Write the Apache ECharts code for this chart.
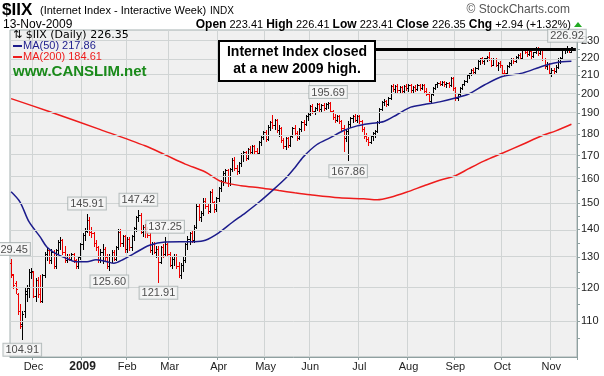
<!DOCTYPE html>
<html>
<head>
<meta charset="utf-8">
<script src="https://cdn.jsdelivr.net/npm/echarts@6/dist/echarts.min.js"></script>
<style>
  html, body { margin: 0; padding: 0; background: #fff; }
  #chart { width: 604px; height: 376px; }
</style>
</head>
<body>
<div id="chart"></div>
<script>
// daily bars, [open, high, low, close], one array per month
const nov08 = [
  [128.0,129.45,123.5,124.5],[124.0,124.5,120.0,121.0],[121.5,122.0,118.5,119.5],[118.0,118.5,112.0,113.0],
  [113.0,115.0,108.0,108.5],[109.0,113.0,104.91,112.0],[113.0,120.0,111.0,119.0],[118.0,121.0,116.0,120.0],
  [120.0,126.0,117.0,125.0],[125.0,126.5,123.0,125.5]
];
const dec08 = [
  [125.0,125.5,117.0,117.5],[117.5,123.0,116.0,122.5],[122.5,123.5,117.0,118.0],[118.0,124.0,115.5,116.0],
  [116.0,124.5,115.5,124.0],[124.0,132.0,123.5,131.0],[131.0,133.5,129.0,132.5],[132.5,133.0,128.0,129.0],
  [129.0,133.0,128.0,132.0],[132.0,132.5,126.5,127.0],[127.0,133.0,126.5,132.5],[132.5,136.0,131.0,135.5],
  [135.5,137.0,133.0,136.0],[136.0,136.5,131.0,132.0],[132.0,134.0,128.5,129.0],[129.0,131.0,128.5,130.5],
  [130.5,131.0,129.0,129.5],[129.5,131.5,129.0,131.0],[131.0,131.5,128.5,129.0],[129.0,129.5,126.5,127.0],
  [127.0,130.5,126.5,130.0],[130.0,135.0,129.5,134.5]
];
const jan09 = [
  [134.5,138.5,133.0,138.0],[138.0,140.5,136.0,139.5],[139.5,145.91,139.0,143.5],[143.5,144.5,138.0,139.0],
  [139.0,141.0,137.0,138.5],[138.5,139.0,134.0,135.0],[135.0,136.0,132.5,133.5],[133.5,134.0,128.5,129.0],
  [129.0,133.0,128.5,132.0],[132.0,134.5,128.0,133.0],[133.0,133.5,129.0,130.0],[130.0,131.0,126.5,127.0],
  [127.0,131.0,125.60,130.5],[130.5,132.5,128.5,132.0],[132.0,132.5,129.0,129.5],[129.5,134.0,129.0,133.5],
  [133.5,140.0,133.0,139.0],[139.0,140.0,134.0,135.0],[135.0,138.0,134.0,137.5],[137.5,138.0,132.0,133.0]
];
const feb09 = [
  [133.0,137.0,132.0,136.5],[136.5,137.0,132.5,133.5],[133.5,138.0,132.5,137.5],[137.5,141.0,136.0,140.5],
  [140.5,145.0,139.5,144.5],[144.5,147.42,143.0,145.5],[145.5,146.0,138.5,139.0],[139.0,141.5,137.5,141.0],
  [141.0,142.0,137.0,140.0],[140.0,141.0,137.0,138.0],[138.0,138.5,132.0,132.5],[132.5,135.5,131.0,134.5],
  [134.5,135.5,131.5,132.0],[132.0,134.0,130.0,133.0],[133.0,134.0,121.91,128.5],[128.5,134.0,128.0,133.5],
  [133.5,134.5,130.0,131.0],[131.0,137.25,130.5,134.5],[134.5,135.0,130.5,131.0]
];
const mar09 = [
  [131.0,132.0,127.0,127.5],[127.5,130.5,126.5,129.5],[129.5,131.0,127.5,130.5],[130.5,131.0,126.5,127.0],
  [127.0,128.5,123.5,124.0],[124.0,128.0,123.0,127.5],[127.5,130.0,125.5,129.0],[129.0,135.0,128.5,134.5],
  [134.5,137.5,133.0,136.5],[136.5,139.0,134.5,138.5],[138.5,139.5,135.5,136.0],[136.0,141.5,135.5,141.0],
  [141.0,150.0,140.5,149.0],[149.0,149.5,143.5,144.5],[144.5,147.0,143.0,146.0],[146.0,152.0,145.5,151.0],
  [151.0,152.0,148.0,149.0],[149.0,150.0,146.0,147.0],[147.0,155.0,146.5,154.5],[154.5,155.5,150.0,150.5],
  [150.5,151.0,146.5,147.5],[147.5,152.5,147.0,152.0]
];
const apr09 = [
  [152.0,156.5,151.0,156.0],[156.0,159.5,155.0,159.0],[159.0,163.0,157.5,162.5],[162.5,164.0,159.0,163.5],
  [163.5,164.0,157.0,158.0],[158.0,164.5,157.5,164.0],[164.0,169.0,163.0,168.0],[168.0,169.5,163.5,164.5],
  [164.5,166.0,162.0,163.0],[163.0,167.0,162.5,166.5],[166.5,171.0,165.5,170.5],[170.5,172.0,167.5,171.5],
  [171.5,172.0,168.0,169.0],[169.0,173.5,168.5,173.0],[173.0,174.5,170.5,171.5],[171.5,175.0,170.5,174.5],
  [174.5,175.0,171.0,172.0],[172.0,173.5,170.5,171.0],[171.0,176.5,170.5,176.0],[176.0,179.0,175.0,178.5],
  [178.5,181.5,177.5,181.0]
];
const may09 = [
  [181.0,182.0,176.5,177.5],[177.5,184.0,177.0,183.5],[183.5,186.0,182.0,185.5],[185.5,189.0,183.0,184.0],
  [184.0,187.0,182.5,186.5],[186.5,187.0,181.0,182.0],[182.0,184.0,179.0,183.0],[183.0,183.5,176.0,177.0],
  [177.0,178.0,173.5,174.5],[174.5,178.5,173.0,178.0],[178.0,178.5,174.0,175.0],[175.0,179.5,174.5,179.0],
  [179.0,183.5,178.5,183.0],[183.0,184.0,179.5,180.5],[180.5,181.5,177.0,178.0],[178.0,183.0,177.5,182.5],
  [182.5,186.0,181.5,185.5],[185.5,186.5,182.0,184.5],[184.5,189.0,184.0,188.5],[188.5,190.0,186.5,189.5]
];
const jun09 = [
  [189.5,194.0,189.0,193.5],[193.5,194.5,190.0,191.0],[191.0,193.0,189.5,192.5],[192.5,195.0,191.5,194.5],
  [194.5,195.0,191.0,192.0],[192.0,194.5,191.0,194.0],[194.0,195.0,191.5,192.5],[192.5,195.0,192.0,194.5],
  [194.5,195.69,192.5,195.0],[195.0,195.5,190.5,191.0],[191.0,191.5,187.0,188.0],[188.0,189.5,185.5,186.5],
  [186.5,189.0,186.0,188.5],[188.5,189.0,185.0,186.0],[186.0,186.5,182.0,183.0],[183.0,184.0,172.0,178.0],
  [178.0,182.0,176.5,181.5],[181.5,186.0,167.86,184.5],[184.5,188.0,183.5,187.5],[187.5,189.0,185.5,188.5],
  [188.5,189.5,186.0,186.5],[186.5,189.0,185.5,188.5]
];
const jul09 = [
  [188.5,189.0,185.0,186.0],[186.0,186.5,181.5,182.5],[182.5,183.5,178.0,179.0],[179.0,180.5,176.5,177.5],
  [177.5,178.5,175.0,176.0],[176.0,179.5,175.5,179.0],[179.0,181.0,177.0,180.5],[180.5,182.0,178.5,181.5],
  [181.5,186.0,181.0,185.5],[185.5,192.5,185.0,192.0],[192.0,196.0,191.5,195.5],[195.5,197.5,194.0,196.5],
  [196.5,197.0,193.5,194.5],[194.5,198.5,194.0,198.0],[198.0,204.5,197.5,204.0],[204.0,205.5,201.5,202.5],
  [202.5,204.5,201.0,204.0],[204.0,205.0,201.0,202.0],[202.0,204.0,200.5,203.5],[203.5,204.0,200.5,201.5],
  [201.5,204.5,201.0,204.0],[204.0,205.5,202.0,203.0]
];
const aug09 = [
  [203.0,205.0,201.5,204.5],[204.5,205.5,201.0,202.0],[202.0,204.0,200.5,203.5],[203.5,204.5,201.5,202.5],
  [202.5,205.0,202.0,204.5],[204.5,205.5,202.0,203.0],[203.0,205.0,202.5,204.5],[204.5,205.5,201.0,201.5],
  [201.5,203.0,199.5,200.0],[200.0,201.0,196.0,196.5],[196.5,200.5,195.5,200.0],[200.0,203.5,199.5,203.0],
  [203.0,205.5,202.5,205.0],[205.0,206.5,203.5,206.0],[206.0,207.0,204.5,205.0],[205.0,207.0,204.5,206.5],
  [206.5,207.0,204.0,205.0],[205.0,206.5,203.5,206.0],[206.0,206.5,203.5,204.5],[204.5,209.0,204.0,208.5],
  [208.5,209.0,202.0,203.0]
];
const sep09 = [
  [203.0,203.5,197.0,198.0],[198.0,200.5,197.0,200.0],[200.0,203.5,199.5,203.0],[203.0,205.5,202.5,205.0],
  [205.0,207.5,204.5,207.0],[207.0,210.5,206.5,210.0],[210.0,211.5,208.5,211.0],[211.0,213.5,210.0,213.0],
  [213.0,214.0,211.0,212.0],[212.0,214.5,211.5,214.0],[214.0,218.5,213.5,218.0],[218.0,220.0,216.5,219.5],
  [219.5,220.5,217.0,218.0],[218.0,220.0,216.5,219.5],[219.5,221.0,218.0,220.5],[220.5,223.5,218.5,219.0],
  [219.0,219.5,215.0,216.0],[216.0,219.5,215.5,219.0],[219.0,219.5,215.0,215.5],[215.5,217.5,213.0,217.0],
  [217.0,218.0,214.5,215.5]
];
const oct09 = [
  [215.5,216.0,211.0,211.5],[211.5,213.0,210.0,211.0],[211.0,215.5,210.5,215.0],[215.0,217.5,214.5,217.0],
  [217.0,219.5,216.0,219.0],[219.0,219.5,217.0,218.0],[218.0,221.0,217.5,220.5],[220.5,222.0,219.5,221.5],
  [221.5,222.5,219.5,220.0],[220.0,225.0,219.5,224.5],[224.5,225.5,222.5,223.5],[223.5,224.0,221.0,222.0],
  [222.0,224.5,221.5,224.0],[224.0,224.5,220.0,221.0],[221.0,223.5,220.5,223.0],[223.0,226.0,222.5,225.5],
  [225.5,226.0,221.5,222.5],[222.5,225.5,222.0,225.0],[225.0,225.5,218.5,219.0],[219.0,219.5,214.0,215.0],
  [215.0,217.5,213.5,216.5],[216.5,217.0,210.5,211.5]
];
const nov09 = [
  [211.5,214.0,209.5,213.0],[213.0,214.0,211.0,212.5],[212.5,215.5,212.0,214.5],[214.5,219.5,214.0,219.0],
  [219.0,220.5,217.0,220.0],[220.0,225.0,219.5,224.5],[224.5,225.5,222.5,224.8],[224.8,226.92,223.5,225.0],
  [225.0,225.5,223.0,223.41],[223.41,226.41,223.41,226.35]
];

// moving averages, [bar index, value]
const ma50 = [
  [0,154.5],[4,150.4],[8,142.8],[13,137.2],[16,133.6],[20,131.3],[25,129.6],[29,128.5],[34,128.5],[38,129.2],
  [43,128.5],[46,128.0],[50,129.2],[55,131.3],[62,134.2],[69,135.4],[82,135.5],[87,136.0],[93,138.7],[99,142.5],
  [105,146.2],[111,150.3],[117,155.0],[123,160.1],[127,164.5],[131,169.5],[137,175.0],[143,178.2],[149,181.6],
  [155,183.8],[161,185.0],[167,185.9],[173,189.4],[179,193.1],[185,194.4],[192,195.8],[199,197.8],[205,199.9],
  [212,204.7],[220,209.3],[229,211.2],[238,215.1],[244,217.1],[251,217.86]
];
const ma200 = [
  [0,197.5],[17,190.9],[40,182.0],[60,174.4],[69,170.3],[78,166.2],[87,162.8],[94,158.8],[103,157.0],[112,156.1],
  [120,155.0],[127,154.1],[134,153.3],[147,152.1],[158,151.7],[164,151.3],[170,152.3],[177,154.3],[185,157.0],
  [192,159.3],[199,161.2],[205,164.2],[212,167.6],[220,171.0],[229,175.0],[238,179.2],[244,181.4],[251,184.61]
];

// labelled highs and lows, [bar index, value, side]
const pivots = [
  [0,129.45,'top'],[5,104.91,'bottom'],[34,145.91,'top'],[44,125.60,'bottom'],[57,147.42,'top'],
  [66,121.91,'bottom'],[69,137.25,'top'],[142,195.69,'top'],[151,167.86,'bottom'],[249,226.92,'top']
];

const monthStarts = [10, 32, 52, 71, 93, 114, 134, 156, 178, 199, 220, 242];
const monthLabels = ['Dec', '2009', 'Feb', 'Mar', 'Apr', 'May', 'Jun', 'Jul', 'Aug', 'Sep', 'Oct', 'Nov'];
const priceTicks = [110, 120, 130, 140, 150, 160, 170, 180, 190, 200, 210, 220, 230];
const minorTicks = [105, 110, 115, 120, 125, 130, 135, 140, 145, 150, 155, 160, 165, 170, 175, 180, 185, 190, 195, 200, 205, 210, 215, 220, 225, 230, 235];
const highLine = 225;

const L = Math.log;
const bars = [].concat(nov08, dec08, jan09, feb09, mar09, apr09, may09, jun09, jul09, aug09, sep09, oct09, nov09);
const cats = [];
for (let i = 0; i < bars.length + 2; i++) cats.push(String(i));

const ohlc = bars.map((b, i) => {
  const prev = i > 0 ? bars[i - 1][3] : b[0];
  return [i, L(b[0]), L(b[1]), L(b[2]), L(b[3]), b[3] >= prev ? 1 : 0];
});

const font = '"Liberation Sans", Arial, sans-serif';
const chart = echarts.init(document.getElementById('chart'));

function txt(x, y, text, f, fill, extra) {
  return {
    type: 'text', z: 20,
    style: Object.assign({ x: x, y: y, text: text, font: f, fill: fill, textVerticalAlign: 'middle' }, extra || {})
  };
}

const option = {
  animation: false,
  backgroundColor: '#ffffff',
  grid: {
    left: 10, right: 27, top: 30, bottom: 19,
    show: true, backgroundColor: '#f0f0f0', borderColor: '#a4b0b0', borderWidth: 1
  },
  xAxis: {
    type: 'category',
    data: cats,
    boundaryGap: true,
    axisLine: { show: true, lineStyle: { color: '#8fa0a0' } },
    axisTick: { show: true, length: 3, interval: (idx) => monthStarts.includes(idx), lineStyle: { color: '#8fa0a0' } },
    axisLabel: {
      interval: (idx) => monthStarts.includes(idx),
      formatter: (v, idx) => {
        const k = monthStarts.indexOf(idx);
        if (k < 0) return '';
        return monthLabels[k] === '2009' ? '{b|2009}' : monthLabels[k];
      },
      margin: 4,
      color: '#222',
      fontFamily: font,
      fontSize: 11,
      rich: { b: { fontWeight: 'bold', fontSize: 12, fontFamily: font, color: '#222' } }
    },
    splitLine: { show: true, interval: (idx) => monthStarts.includes(idx), lineStyle: { color: '#d0d4d4', width: 1 } }
  },
  yAxis: {
    type: 'value',
    position: 'right',
    min: L(100),
    max: L(236.6),
    axisLine: { show: true, lineStyle: { color: '#8fa0a0' } },
    axisTick: { show: true, length: 3, customValues: minorTicks.map(L), lineStyle: { color: '#8fa0a0' } },
    axisLabel: {
      customValues: priceTicks.map(L),
      formatter: (v) => String(Math.round(Math.exp(v))),
      margin: 4,
      color: '#222',
      fontFamily: font,
      fontSize: 11
    },
    splitLine: { show: false }
  },
  series: [
    {
      // horizontal price grid
      type: 'line',
      z: 1,
      silent: true,
      data: [[0, L(100)]],
      showSymbol: false,
      lineStyle: { opacity: 0 },
      markLine: {
        silent: true,
        symbol: 'none',
        label: { show: false },
        lineStyle: { color: '#d0d4d4', width: 1, type: 'solid' },
        data: priceTicks.map(v => ({ yAxis: L(v) }))
      }
    },
    {
      type: 'custom',
      name: '$IIX',
      z: 3,
      data: ohlc,
      encode: { x: 0, y: [1, 2, 3, 4] },
      renderItem: function (params, api) {
        const i = api.value(0);
        const pO = api.coord([i, api.value(1)]);
        const pH = api.coord([i, api.value(2)]);
        const pL = api.coord([i, api.value(3)]);
        const pC = api.coord([i, api.value(4)]);
        const x = Math.round(pO[0]) + 0.5;
        const yo = Math.round(pO[1]) + 0.5;
        const yc = Math.round(pC[1]) + 0.5;
        const style = { stroke: api.value(5) ? '#000000' : '#ee0000', lineWidth: 1 };
        return {
          type: 'group',
          children: [
            { type: 'line', shape: { x1: x, y1: Math.round(pH[1]), x2: x, y2: Math.round(pL[1]) + 1 }, style: style },
            { type: 'line', shape: { x1: x - 1.5, y1: yo, x2: x, y2: yo }, style: style },
            { type: 'line', shape: { x1: x, y1: yc, x2: x + 1.5, y2: yc }, style: style }
          ]
        };
      }
    },
    {
      type: 'line',
      name: 'MA(200)',
      z: 4,
      smooth: 0.3,
      showSymbol: false,
      data: ma200.map(p => [p[0], L(p[1])]),
      lineStyle: { color: '#ee1c1c', width: 1.5 }
    },
    {
      type: 'line',
      name: 'MA(50)',
      z: 4,
      smooth: 0.3,
      showSymbol: false,
      data: ma50.map(p => [p[0], L(p[1])]),
      lineStyle: { color: '#1c1c8c', width: 1.5 },
      markLine: {
        silent: true,
        symbol: 'none',
        label: { show: false },
        lineStyle: { color: '#000', width: 3, type: 'solid' },
        data: [[{ coord: [163, L(highLine)] }, { coord: [253, L(highLine)] }]]
      }
    },
    {
      type: 'scatter',
      z: 6,
      symbolSize: 0,
      data: pivots.map(p => ({
        value: [p[0], L(p[1])],
        label: { position: p[2], distance: p[2] === 'top' ? 4 : 5 }
      })),
      label: {
        show: true,
        formatter: (d) => Math.exp(d.value[1]).toFixed(2),
        color: '#222',
        fontFamily: font,
        fontSize: 11,
        backgroundColor: '#f7f7f7',
        borderColor: '#a8b0b0',
        borderWidth: 1,
        padding: [1, 2, 0, 2]
      }
    }
  ],
  graphic: [
    txt(2, 10, '$IIX', 'bold 17px ' + font, '#000'),
    txt(40, 11, '(Internet Index - Interactive Week)', '11px ' + font, '#000'),
    txt(210, 11, 'INDX', '10px ' + font, '#000'),
    txt(570, 10, '\u00a9 StockCharts.com', '12px ' + font, '#555', { textAlign: 'right' }),
    txt(3, 25, '13-Nov-2009', '12px ' + font, '#000'),
    txt(571, 25, '{b|Open} 223.41 {b|High} 226.41 {b|Low} 223.41 {b|Close} 226.35 {b|Chg} +2.94 (+1.32%)',
      '11px ' + font, '#000', { textAlign: 'right', rich: { b: { font: 'bold 12px ' + font, fill: '#000' } } }),
    { type: 'polygon', z: 20, shape: { points: [[574, 27], [578, 22], [582, 27]] }, style: { fill: '#22aa22' } },
    txt(13, 35.5, '\u21c5 $IIX (Daily) 226.35', '11px "DejaVu Sans", sans-serif', '#000'),
    { type: 'rect', z: 20, shape: { x: 13, y: 45, width: 9, height: 2 }, style: { fill: '#1c1c8c' } },
    txt(23, 46, 'MA(50) 217.86', '11px ' + font, '#1c1c8c'),
    { type: 'rect', z: 20, shape: { x: 13, y: 56, width: 9, height: 2 }, style: { fill: '#ee1c1c' } },
    txt(23, 57, 'MA(200) 184.61', '11px ' + font, '#ee1c1c'),
    txt(13, 72, 'www.CANSLIM.net', 'bold 15px ' + font, '#1a8a1a'),
    {
      type: 'rect', z: 10,
      shape: { x: 219, y: 41, width: 156, height: 40 },
      style: { fill: '#ffffff', stroke: '#000000', lineWidth: 2 }
    },
    txt(297, 61, 'Internet Index closed\nat a new 2009 high.', 'bold 14px ' + font, '#000', { textAlign: 'center', lineHeight: 17 })
  ]
};

chart.setOption(option);
</script>
</body>
</html>
